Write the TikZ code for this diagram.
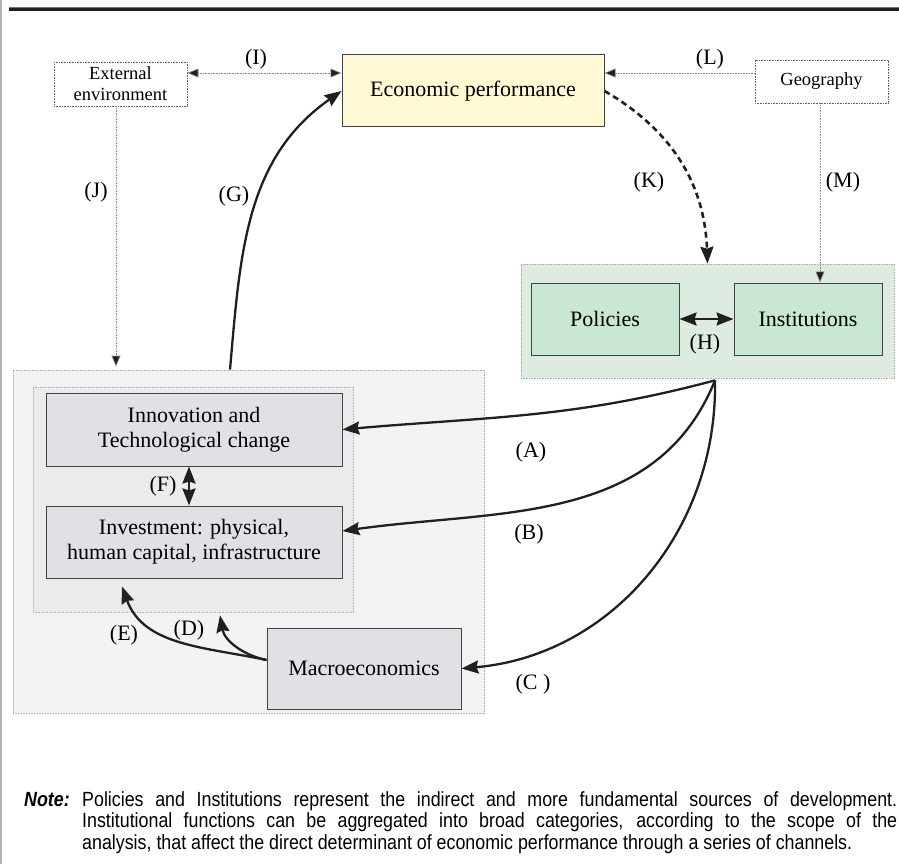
\documentclass[tikz,border=0pt]{standalone}
\usepackage{fontspec}
\setmainfont{Liberation Serif}
\newfontfamily\notefont[FakeStretch=0.87]{Liberation Sans}
\usetikzlibrary{arrows.meta,calc}
\definecolor{econfill}{RGB}{255,249,212}
\definecolor{greenbg}{RGB}{221,235,224}
\definecolor{greenbox}{RGB}{202,230,213}
\definecolor{leftbg}{RGB}{243,243,243}
\definecolor{innerbg}{RGB}{235,235,237}
\definecolor{greybox}{RGB}{224,225,228}
\definecolor{linec}{RGB}{35,31,32}
\newcommand\mainsz{\fontsize{22}{25}\selectfont}
\newcommand\smallsz{\fontsize{18.5}{21}\selectfont}
\newcommand\notesz{\fontsize{20.5}{21.5}\selectfont}
\tikzset{
  box/.style={draw=linec!85, line width=1pt, inner sep=0pt, align=center, font=\mainsz},
  smallbox/.style={draw=black!60, dash pattern=on 1pt off 0.6pt, line width=0.8pt, inner sep=0pt, align=center, font=\smallsz, fill=white},
  cont/.style={draw=black!30, dash pattern=on 0.8pt off 0.8pt, line width=0.7pt, inner sep=0pt},
  lbl/.style={font=\mainsz, inner sep=0pt},
  conn/.style={line width=2.3pt, draw=linec, -{Stealth[length=17pt,width=13pt,inset=2pt]}},
  dblconn/.style={line width=2.3pt, draw=linec, {Stealth[length=17pt,width=13pt,inset=2pt]}-{Stealth[length=17pt,width=13pt,inset=2pt]}},
  dashconn/.style={line width=2.6pt, draw=linec, dash pattern=on 6pt off 4pt, -{Stealth[length=17pt,width=13pt,inset=2pt]}},
  dotarr/.style={draw=black!45, line width=0.7pt, dash pattern=on 0.8pt off 0.8pt, -{Triangle[length=11pt,width=9pt,fill=linec]}},
  dotdbl/.style={draw=black!45, line width=0.7pt, dash pattern=on 0.8pt off 0.8pt, {Triangle[length=11pt,width=9pt,fill=linec]}-{Triangle[length=11pt,width=9pt,fill=linec]}}
}
\begin{document}
\begin{tikzpicture}[x=1pt,y=-1pt]
\useasboundingbox (0,0) rectangle (899,864);
% frame lines
\draw[draw=black!30, line width=2pt] (1,0) -- (1,864);
\draw[draw=black!55, line width=0.8pt] (9,7.5) -- (899,7.5);
\draw[draw=linec, line width=3pt] (9,10) -- (899,10);
% containers
\node[cont, fill=leftbg, minimum width=471pt, minimum height=343pt] (lc) at (248.5,541.5) {};
\node[cont, fill=innerbg, minimum width=320pt, minimum height=225pt] (ic) at (193,499.5) {};
\node[cont, fill=greenbg, minimum width=373pt, minimum height=114pt] (gc) at (707.5,321) {};
% boxes
\node[smallbox, minimum width=133pt, minimum height=44pt] (ext) at (120.5,84) {External\\environment};
\node[box, fill=econfill, minimum width=262pt, minimum height=72pt] (econ) at (473,91) {\raisebox{5pt}{Economic performance}};
\node[smallbox, minimum width=133pt, minimum height=43pt] (geo) at (821.5,81.5) {Geography};
\node[box, fill=greenbox, minimum width=148pt, minimum height=72pt] (pol) at (605,319) {Policies};
\node[box, fill=greenbox, minimum width=148pt, minimum height=72pt] (inst) at (808,319) {Institutions};
\node[box, fill=greybox, minimum width=296pt, minimum height=73pt] (innov) at (194,429.5) {Innovation and\\Technological change};
\node[box, fill=greybox, minimum width=296pt, minimum height=72pt] (invest) at (194,542) {Investment: physical,\\human capital, infrastructure};
\node[box, fill=greybox, minimum width=194pt, minimum height=81pt] (macro) at (364,668.5) {Macroeconomics};
% labels
\node[lbl] (lI) at (256,59) {(I)};
\node[lbl] (lL) at (710,59) {(L)};
\node[lbl] (lJ) at (96,192) {(J)};
\node[lbl] (lG) at (234,196) {(G)};
\node[lbl] (lK) at (649,182) {(K)};
\node[lbl] (lM) at (843,182) {(M)};
\node[lbl] (lH) at (705,344) {(H)};
\node[lbl] (lA) at (531,452) {(A)};
\node[lbl] (lB) at (529,534) {(B)};
\node[lbl] (lC) at (533,684) {(C )};
\node[lbl] (lF) at (163,486) {(F)};
\node[lbl] (lD) at (189,630) {(D)};
\node[lbl] (lE) at (124,635) {(E)};
% dotted connectors
\coordinate (iS) at ([yshift=11pt]ext.east);
\draw[dotdbl] (iS) -- (iS -| econ.west);
\coordinate (lS) at ([yshift=8.5pt]geo.west);
\draw[dotarr] (lS) -- (lS -| econ.east);
\coordinate (jS) at ([xshift=-4.5pt]ext.south);
\draw[dotarr] (jS) -- ([yshift=3pt]jS |- lc.north);
\coordinate (mS) at ([xshift=-1.5pt]geo.south);
\draw[dotarr] (mS) -- (mS |- inst.north);
% solid connectors
\coordinate (gS) at ([xshift=-18.5pt]lc.north);
\draw[conn] (gS) to[out=85,in=215] (econ.west);
\draw[dashconn] (econ.east) to[out=-30,in=92] (gc.north);
\draw[dblconn] (pol.east) -- (inst.west);
\coordinate (abc) at ([xshift=7.5pt,yshift=-2pt]gc.south);
\draw[conn] (abc) to[out=195,in=5] (innov.east);
\draw[conn] (abc) to[out=-112,in=8] ([yshift=11pt]invest.east);
\draw[conn] (abc) to[out=-89,in=5] (macro.east);
\draw[dblconn] ([xshift=-5pt]innov.south) -- ([xshift=-5pt]invest.north);
\coordinate (dS) at ([yshift=8.5pt]macro.west);
\draw[conn] (dS) to[out=168,in=-80] ([xshift=27pt,yshift=-3pt]ic.south);
\draw[conn] (dS) to[out=168,in=-70] ([xshift=-72pt,yshift=-8pt]invest.south);
% note
\node[anchor=base west, inner sep=0pt, font=\notefont\notesz\bfseries\itshape] (notelbl) at (24,806) {Note:};
\node[anchor=base west, inner sep=0pt, text width=815pt, align=justify, font=\notefont\notesz] (notetxt) at (82,806) {Policies and Institutions represent the indirect and more fundamental sources of development.\linebreak Institutional functions can be aggregated into broad categories, according to the scope of the\linebreak analysis, that affect the direct determinant of economic performance through a series of channels.};
\end{tikzpicture}
\end{document}
